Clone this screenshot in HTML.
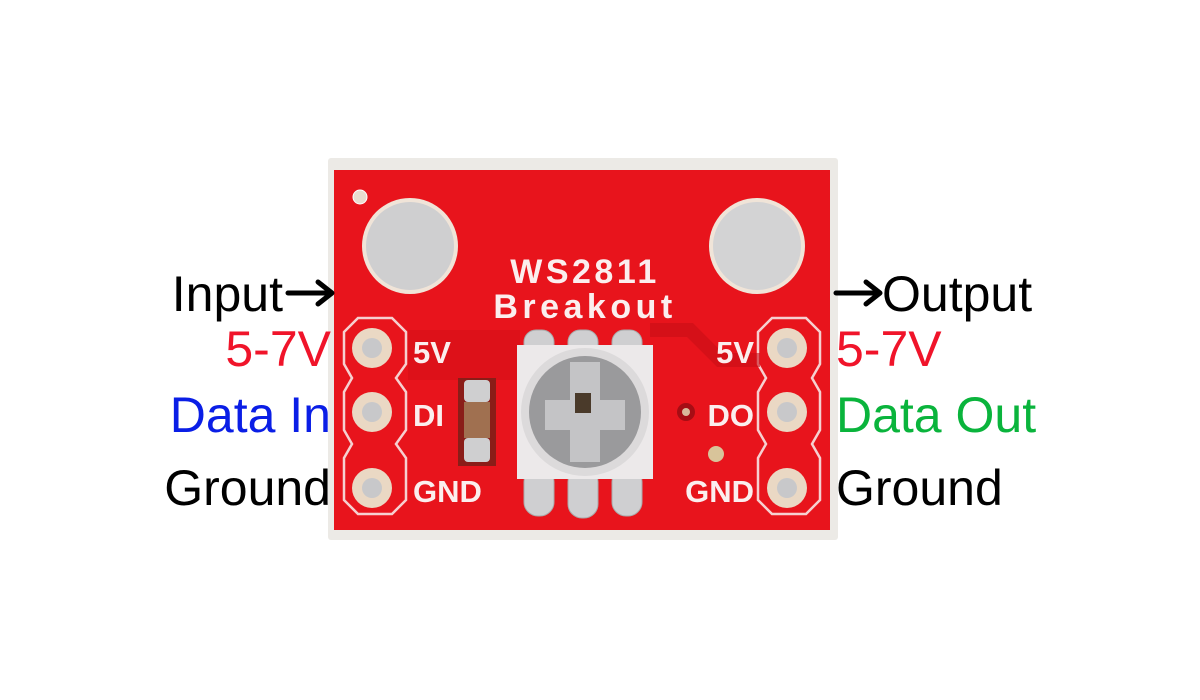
<!DOCTYPE html>
<html><head><style>html,body{margin:0;padding:0;background:#fff;}svg{display:block}</style></head>
<body>
<svg width="1200" height="700" viewBox="0 0 1200 700" xmlns="http://www.w3.org/2000/svg" font-family="Liberation Sans, sans-serif">
<rect width="1200" height="700" fill="#fff"/>
<rect x="328" y="158" width="510" height="382" fill="#eceae6" rx="3"/>
<rect x="334" y="170" width="496" height="360" fill="#e8141c"/>
<g fill="none" stroke="#f6d0d0" stroke-width="2.5">
<path d="M358 318 H392 L406 332 V364 L396 378 L406 392 V430 L396 444 L406 458 V500 L392 514 H358 L344 500 V458 L352 444 L344 430 V392 L352 378 L344 364 V332 Z"/>
<path d="M772 318 H806 L820 332 V364 L812 378 L820 392 V430 L812 444 L820 458 V500 L806 514 H772 L758 500 V458 L766 444 L758 430 V392 L766 378 L758 364 V332 Z"/>
</g>
<path d="M408 330 H520 V380 H408 Z" fill="#d50f18" opacity="0.6"/>
<path d="M650 330 H690 L720 360 H760" fill="none" stroke="#c80e16" stroke-width="14" opacity="0.6"/>
<circle cx="360" cy="197" r="7" fill="#e9dccf" stroke="#fff" stroke-width="1"/>
<circle cx="410" cy="246" r="48" fill="#f0e4d8"/>
<circle cx="410" cy="246" r="44" fill="#cfcfd0"/>
<circle cx="757" cy="246" r="48" fill="#f0e4d8"/>
<circle cx="757" cy="246" r="44" fill="#d3d3d4"/>
<g>
<circle cx="372" cy="348" r="20" fill="#ead8c4"/><circle cx="372" cy="348" r="10" fill="#c8c8ca"/>
<circle cx="372" cy="412" r="20" fill="#ead8c4"/><circle cx="372" cy="412" r="10" fill="#c8c8ca"/>
<circle cx="372" cy="488" r="20" fill="#ead8c4"/><circle cx="372" cy="488" r="10" fill="#c8c8ca"/>
<circle cx="787" cy="348" r="20" fill="#ead8c4"/><circle cx="787" cy="348" r="10" fill="#c8c8ca"/>
<circle cx="787" cy="412" r="20" fill="#ead8c4"/><circle cx="787" cy="412" r="10" fill="#c8c8ca"/>
<circle cx="787" cy="488" r="20" fill="#ead8c4"/><circle cx="787" cy="488" r="10" fill="#c8c8ca"/>
</g>
<g fill="#fbeeee" font-weight="bold">
<text x="585" y="283" font-size="34" letter-spacing="3.5" text-anchor="middle">WS2811</text>
<text x="585" y="318" font-size="34" letter-spacing="4.5" text-anchor="middle">Breakout</text>
<text x="413" y="363" font-size="31">5V</text>
<text x="413" y="426" font-size="31">DI</text>
<text x="413" y="502" font-size="31">GND</text>
<text x="754" y="363" font-size="31" text-anchor="end">5V</text>
<text x="754" y="426" font-size="31" text-anchor="end">DO</text>
<text x="754" y="502" font-size="31" text-anchor="end">GND</text>
</g>
<rect x="458" y="378" width="38" height="88" fill="#8a1d18"/>
<rect x="464" y="380" width="26" height="22" rx="4" fill="#cfcfd0"/>
<rect x="464" y="402" width="26" height="36" fill="#a07050"/>
<rect x="464" y="438" width="26" height="24" rx="4" fill="#cfcfd0"/>
<circle cx="686" cy="412" r="9" fill="#a60d14"/><circle cx="686" cy="412" r="4" fill="#d9b89a"/>
<circle cx="716" cy="454" r="8" fill="#d8c49a"/>
<g fill="#cfcfd1" stroke="#aaa" stroke-width="1">
<rect x="524" y="330" width="30" height="30" rx="12"/>
<rect x="568" y="330" width="30" height="30" rx="12"/>
<rect x="612" y="330" width="30" height="30" rx="12"/>
<rect x="524" y="468" width="30" height="48" rx="14"/>
<rect x="568" y="468" width="30" height="50" rx="14"/>
<rect x="612" y="468" width="30" height="48" rx="14"/>
</g>
<rect x="517" y="345" width="136" height="134" fill="#ece9ea"/>
<circle cx="585" cy="412" r="64" fill="#dcdadb"/>
<circle cx="585" cy="412" r="56" fill="#9a9a9c"/>
<path d="M570 362 H600 V400 H625 V430 H600 V462 H570 V430 H545 V400 H570 Z" fill="#c4c4c6"/>
<rect x="575" y="393" width="16" height="20" fill="#4a3a2a"/>
<g font-size="50">
<text x="283" y="311" text-anchor="end" fill="#000">Input</text>
<text x="331" y="366" text-anchor="end" fill="#f0142a">5-7V</text>
<text x="331" y="432" text-anchor="end" fill="#0a1ee6">Data In</text>
<text x="331" y="505" text-anchor="end" fill="#000">Ground</text>
<text x="882" y="311" fill="#000">Output</text>
<text x="836" y="366" fill="#f0142a">5-7V</text>
<text x="836" y="432" fill="#0ab43c">Data Out</text>
<text x="836" y="505" fill="#000">Ground</text>
</g>
<g stroke="#000" stroke-width="5" fill="none" stroke-linecap="round" stroke-linejoin="round">
<path d="M288 293 H330 M318 282 L332 293 L318 304"/>
<path d="M836 293 H878 M866 282 L880 293 L866 304"/>
</g>
</svg>
</body></html>
